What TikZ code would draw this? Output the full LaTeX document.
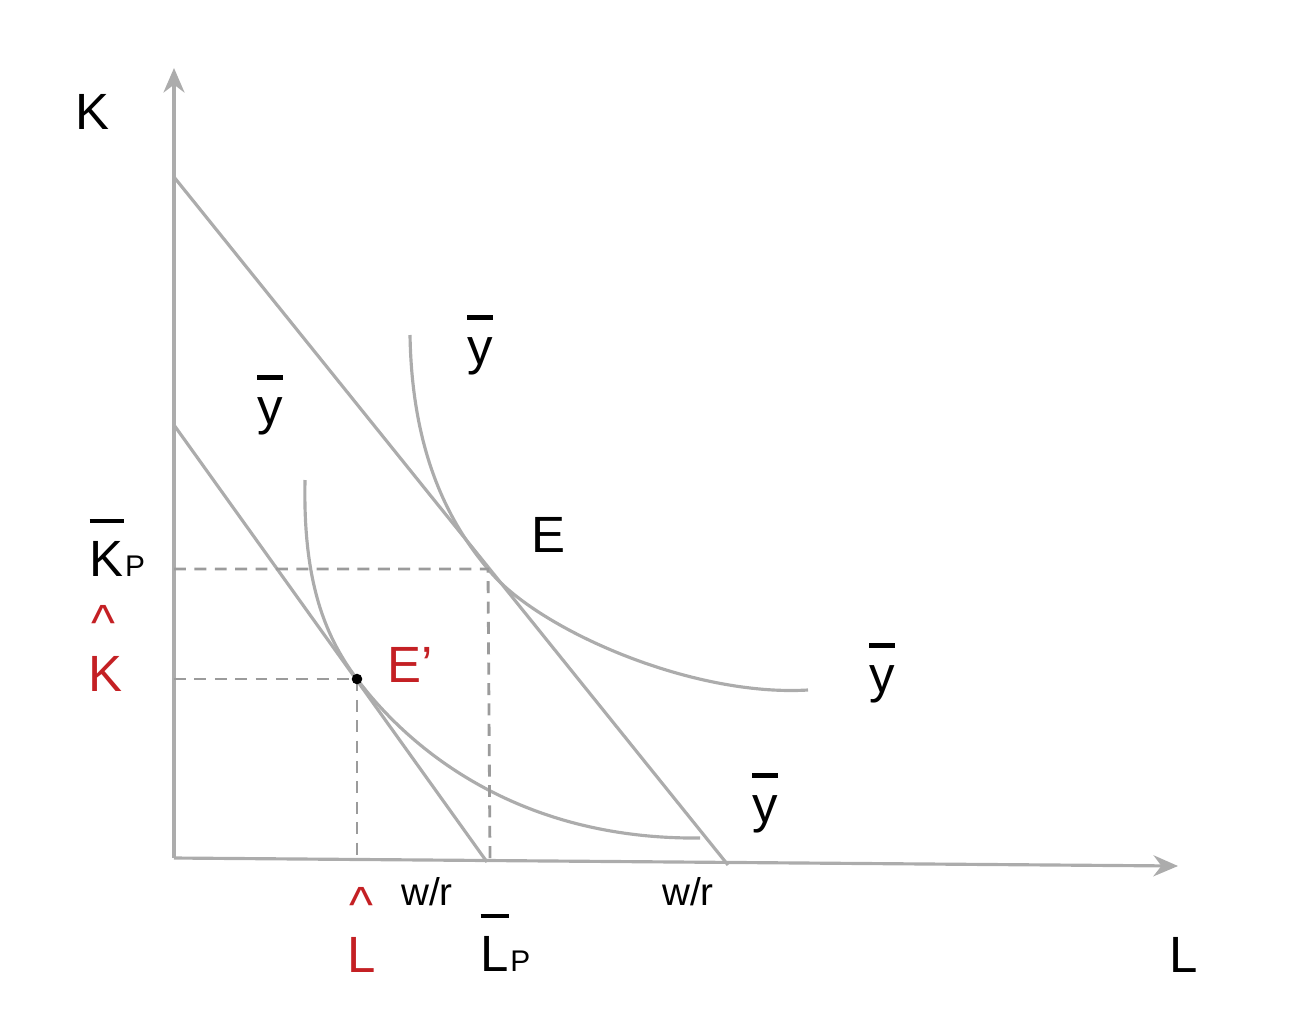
\documentclass[tikz,border=0pt]{standalone}
\usepackage{fontspec}
\setmainfont{Liberation Sans}
\usetikzlibrary{arrows.meta}
\definecolor{axisgray}{RGB}{172,172,172}
\definecolor{labred}{RGB}{196,32,36}
\newcommand{\barlabel}[1]{\vbox{\hrule height 1.2pt \kern 5pt \hbox{#1}}}
\begin{document}
\begin{tikzpicture}[every node/.style={font=\fontsize{14.5}{16}\selectfont, inner sep=1pt}]
  \tikzstyle{ln}=[draw=axisgray, line width=0.9pt]
  \tikzstyle{dsh}=[draw=axisgray!90!black, line width=0.8pt, dash pattern=on 3.4pt off 2.4pt]
  \tikzstyle{small}=[font=\fontsize{11}{12}\selectfont]
  \tikzstyle{sub}=[font=\fontsize{8.5}{9}\selectfont]
  \useasboundingbox (0,0) rectangle (13.11,-10.10);
  % axes
  \coordinate (o) at (1.74,-8.58);
  \coordinate (ktop) at (1.74,-0.68);
  \coordinate (lend) at (11.78,-8.66);
  \draw[ln, -{Stealth[length=7pt,width=6pt]}] (o) -- (ktop);
  \draw[ln, -{Stealth[length=7pt,width=6pt]}] (o) -- (lend);
  % budget lines
  \coordinate (a1) at (1.74,-1.77); \coordinate (a2) at (7.28,-8.65);
  \coordinate (b1) at (1.74,-4.25); \coordinate (b2) at (4.87,-8.62);
  \draw[ln] (a1) -- (a2);
  \draw[ln] (b1) -- (b2);
  % tangency points
  \coordinate (e) at (4.88,-5.69);
  \coordinate (ep) at (3.57,-6.79);
  \coordinate (ex) at (4.90,-8.60); \coordinate (ey) at (1.74,-5.69);
  \coordinate (epx) at (3.57,-8.58); \coordinate (epy) at (1.74,-6.79);
  % isoquants
  \draw[ln] (4.10,-3.35) .. controls (4.12,-4.55) and (4.50,-5.24) .. (e)
            .. controls (5.35,-6.28) and (6.90,-6.97) .. (8.08,-6.90);
  \draw[ln] (3.05,-4.80) .. controls (3.03,-5.75) and (3.22,-6.33) .. (ep)
            .. controls (3.95,-7.30) and (5.00,-8.40) .. (7.00,-8.38);
  % dashed guides
  \draw[dsh] (ey) -- (e) -- (ex);
  \draw[dsh] (epy) -- (ep) -- (epx);
  \fill (ep) circle (1.5pt);
  % labels
  \node (klab) at (0.92,-1.12) {K};
  \node (llab) at (11.84,-9.55) {L};
  \node (y1) at (4.80,-3.45) {\barlabel{y}};
  \node (y2) at (2.70,-4.05) {\barlabel{y}};
  \node (y3) at (8.82,-6.73) {\barlabel{y}};
  \node (y4) at (7.65,-8.03) {\barlabel{y}};
  \node (elab) at (5.48,-5.35) {E};
  \node[text=labred] (eplab) at (4.10,-6.65) {E'};
  \node[anchor=base west, inner sep=0pt] (kp) at (0.89,-5.76) {\barlabel{K}};
  \node[sub, anchor=base west, inner sep=0pt] (kpsub) at (kp.base east) {P};
  \node[text=labred, inner sep=0pt] (khat) at (1.05,-6.74) {K};
  \node[text=labred, inner sep=0pt] (khatmark) at (1.03,-6.23) {\textasciicircum};
  \node[text=labred, inner sep=0pt] (lhat) at (3.62,-9.55) {L};
  \node[text=labred, inner sep=0pt] (lhatmark) at (3.61,-9.05) {\textasciicircum};
  \node[anchor=base west, inner sep=0pt] (lp) at (4.80,-9.71) {\barlabel{L}};
  \node[sub, anchor=base west, inner sep=0pt] (lpsub) at (lp.base east) {P};
  \node[small] (wr1) at (4.27,-8.92) {w/r};
  \node[small] (wr2) at (6.88,-8.92) {w/r};
\end{tikzpicture}
\end{document}
